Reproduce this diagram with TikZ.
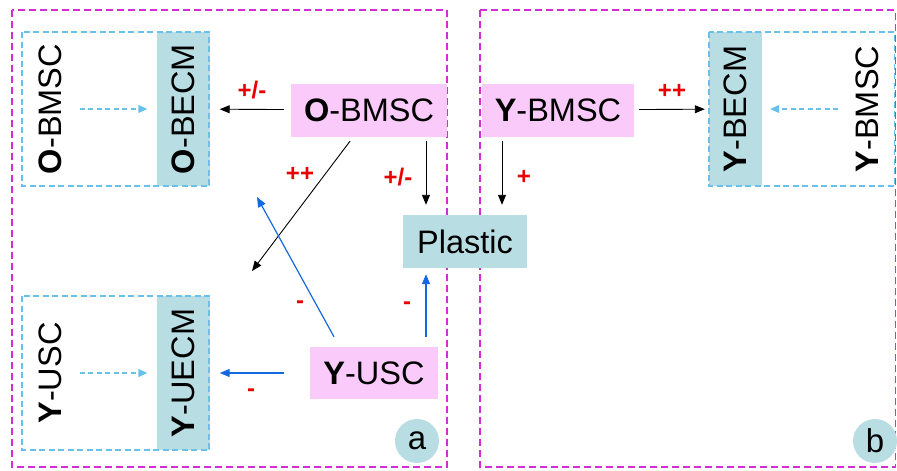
\documentclass[tikz,border=0pt]{standalone}
\usepackage{fontspec}
\setmainfont{Liberation Sans}
\usetikzlibrary{arrows.meta}
\definecolor{magd}{RGB}{212,45,212}
\definecolor{pinkf}{RGB}{250,202,250}
\definecolor{tealf}{RGB}{184,222,228}
\definecolor{cyand}{RGB}{105,192,232}
\definecolor{bluea}{RGB}{22,104,222}
\definecolor{redl}{RGB}{235,0,0}
\begin{document}
\begin{tikzpicture}[x=1pt,y=-1pt,
  panel/.style={draw=magd,line width=1.4pt,dash pattern=on 7pt off 4pt},
  grp/.style={draw=cyand,line width=1.1pt,dash pattern=on 6pt off 3.5pt},
  big/.style={font=\fontsize{32.5}{37}\selectfont,inner sep=0pt},
  pinkbox/.style={big,fill=pinkf,minimum width=156pt,minimum height=53pt},
  tealbox/.style={big,fill=tealf,rotate=90,minimum width=154pt,minimum height=53pt},
  rottxt/.style={big,rotate=90},
  blk/.style={draw=black,line width=0.9pt,-{Triangle[length=10pt,width=8pt]}},
  blu/.style={draw=bluea,line width=1.2pt,-{Triangle[length=10pt,width=8pt]}},
  dsh/.style={draw=cyand,line width=1.1pt,dash pattern=on 5pt off 3.5pt,-{Triangle[length=9pt,width=8pt]}},
  lab/.style={text=redl,font=\fontsize{24}{27}\selectfont\bfseries,inner sep=0pt},
  circ/.style={circle,fill=tealf,minimum size=44pt,inner sep=0pt,font=\fontsize{33}{37}\selectfont}]
\useasboundingbox (0,0) rectangle (897,471);
% panels
\draw[panel] (12,10) rectangle (447,467);
\draw[panel] (480,10) rectangle (895.5,467);
% teal boxes (nodes)
\node[tealbox] (obecm) at (183,109) {\textbf{O}-BECM};
\node[tealbox] (yuecm) at (183,373) {\textbf{Y}-UECM};
\node[tealbox] (ybecm) at (735.5,109) {\textbf{Y}-BECM};
% group frames
\draw[grp] (22,32) rectangle (209,186);
\draw[grp] (22,296) rectangle (209,450);
\draw[grp] (709,32) rectangle (894.5,186);
% rotated texts
\node[rottxt] (obmscL) at (50,109) {\textbf{O}-BMSC};
\node[rottxt] (yuscL) at (50,373) {\textbf{Y}-USC};
\node[rottxt] (ybmscR) at (867,109) {\textbf{Y}-BMSC};
% pink boxes
\node[pinkbox] (ob) at (369,110) {\textbf{O}-BMSC};
\node[pinkbox,minimum width=128pt,minimum height=52pt] (yu) at (374,373) {\textbf{Y}-USC};
\node[pinkbox,minimum width=152pt] (yb) at (558,110) {\textbf{Y}-BMSC};
% plastic
\node[big,fill=tealf,minimum width=124pt,minimum height=53pt] (pl) at (465,241.5) {Plastic};
% free ends
\coordinate (d1) at (252,271);
\coordinate (b1) at (257,197);
% dashed inner arrows
\draw[dsh,shorten <=18pt,shorten >=9pt] (obmscL) -- (obecm);
\draw[dsh,shorten <=18pt,shorten >=9pt] (yuscL) -- (yuecm);
\draw[dsh,shorten <=17pt,shorten >=8pt] (ybmscR) -- (ybecm);
% black arrows
\draw[blk,shorten <=7pt,shorten >=10pt] (ob) -- (obecm);
\draw[blk,shorten <=4.5pt,shorten >=10pt] ([xshift=57pt]ob.south) -- ([xshift=57pt]ob.south |- pl.north);
\draw[blk] ([xshift=-19pt,yshift=-4.5pt]ob.south) -- (d1);
\draw[blk,shorten <=4.5pt,shorten >=10pt] ([xshift=-56pt]yb.south) -- ([xshift=-56pt]yb.south |- pl.north);
\draw[blk,shorten <=5pt,shorten >=4pt] (yb) -- (ybecm);
% blue arrows
\draw[blu] ([xshift=-40pt,yshift=10pt]yu.north) -- (b1);
\draw[blu,shorten <=26pt,shorten >=10pt] (yu) -- (yuecm);
\draw[blu,shorten <=10pt,shorten >=6pt] ([xshift=52pt]yu.north) -- ([xshift=52pt]yu.north |- pl.south);
% labels
\node[lab] (l1) at (252,90) {+/-};
\node[lab] (l2) at (398,177) {+/-};
\node[lab] (l3) at (300,174) {++};
\node[lab] (l4) at (300,305) {-};
\node[lab] (l5) at (251,393) {-};
\node[lab] (l6) at (407,306) {-};
\node[lab] (l7) at (672,91) {++};
\node[lab] (l8) at (524,177) {+};
% circles
\node[circ] (ca) at (417,441) {a};
\node[circ] (cb) at (875,441) {b};
\end{tikzpicture}
\end{document}
